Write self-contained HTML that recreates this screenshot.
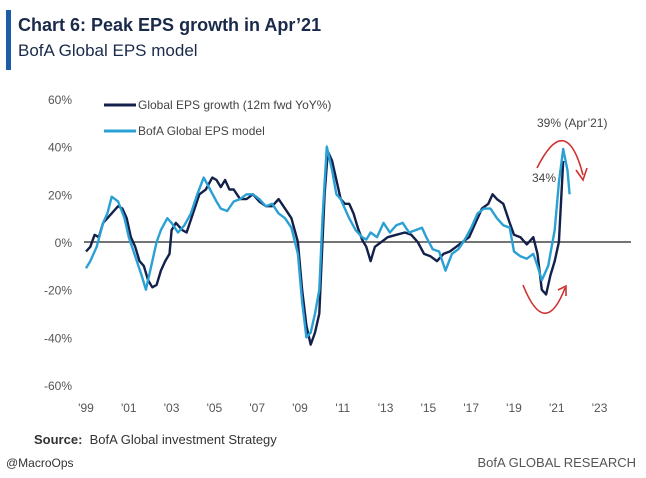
<!DOCTYPE html>
<html><head><meta charset="utf-8"><style>
body{margin:0;width:646px;height:478px;background:#fff;overflow:hidden;font-family:"Liberation Sans",sans-serif;position:relative}
.t{position:absolute;white-space:nowrap}
</style></head><body>
<div style="position:absolute;left:6px;top:10px;width:5px;height:60px;background:#1f5ca8"></div>
<div class="t" style="left:18px;top:15px;font-size:18px;font-weight:bold;color:#1a2a4a">Chart 6: Peak EPS growth in Apr’21</div>
<div class="t" style="left:18px;top:41px;font-size:17px;color:#1a2a4a">BofA Global EPS model</div>
<svg id="c" width="646" height="478" style="position:absolute;left:0;top:0" font-family="Liberation Sans, sans-serif"></svg>
<div class="t" style="left:34px;top:432px;font-size:13px;color:#333"><b>Source:</b>&nbsp; BofA Global investment Strategy</div>
<div class="t" style="left:6px;top:456px;font-size:12px;color:#333">@MacroOps</div>
<div class="t" style="right:10px;top:455px;font-size:13px;color:#555;letter-spacing:0px">BofA GLOBAL RESEARCH</div>
<script>
const yTicks=[60,40,20,0,-20,-40,-60];
const xTickYears=[1999,2001,2003,2005,2007,2009,2011,2013,2015,2017,2019,2021,2023];
const xTickLabels=["'99","'01","'03","'05","'07","'09","'11","'13","'15","'17","'19","'21","'23"];
const darkYears=[1999.0,1999.2,1999.4,1999.6,1999.8,2000.0,2000.3,2000.5,2000.7,2000.9,2001.1,2001.3,2001.5,2001.7,2001.9,2002.1,2002.3,2002.5,2002.7,2002.9,2003.0,2003.2,2003.5,2003.7,2004.0,2004.3,2004.6,2004.9,2005.1,2005.3,2005.5,2005.7,2005.9,2006.2,2006.5,2006.8,2007.1,2007.4,2007.7,2008.0,2008.3,2008.6,2008.9,2009.1,2009.3,2009.5,2009.7,2009.9,2010.0,2010.15,2010.3,2010.5,2010.7,2010.9,2011.1,2011.3,2011.5,2011.7,2011.9,2012.1,2012.3,2012.5,2012.8,2013.1,2013.5,2013.9,2014.2,2014.5,2014.8,2015.1,2015.4,2015.7,2016.0,2016.3,2016.6,2016.9,2017.2,2017.5,2017.8,2018.0,2018.2,2018.5,2018.8,2019.0,2019.3,2019.6,2019.9,2020.1,2020.3,2020.5,2020.7,2020.9,2021.1,2021.3];
const darkValues=[-4,-2,3,2,8,10,13,15,14,10,2,-2,-8,-10,-16,-19,-18,-12,-8,-5,5,8,5,4,12,20,22,27,26,23,26,22,22,18,18,20,17,15,15,18,14,10,0,-20,-35,-43,-38,-30,-10,20,38,34,26,18,16,16,12,6,1,-2,-8,-2,0,2,3,4,3,0,-5,-6,-8,-5,-4,-2,0,2,8,14,16,20,18,16,8,3,2,-1,2,-5,-20,-22,-14,-8,0,34];
const lightYears=[1999.0,1999.2,1999.5,1999.8,2000.0,2000.2,2000.5,2000.8,2001.0,2001.3,2001.6,2001.8,2002.0,2002.3,2002.5,2002.8,2003.0,2003.3,2003.6,2003.9,2004.2,2004.5,2004.8,2005.1,2005.3,2005.6,2005.9,2006.2,2006.5,2006.8,2007.1,2007.4,2007.7,2008.0,2008.3,2008.6,2008.9,2009.1,2009.3,2009.5,2009.7,2009.9,2010.05,2010.25,2010.5,2010.7,2010.9,2011.1,2011.3,2011.6,2011.9,2012.1,2012.3,2012.6,2012.9,2013.2,2013.5,2013.8,2014.1,2014.4,2014.7,2014.9,2015.2,2015.5,2015.8,2016.1,2016.4,2016.7,2017.0,2017.3,2017.6,2017.9,2018.2,2018.5,2018.8,2019.0,2019.3,2019.6,2019.9,2020.1,2020.3,2020.6,2020.9,2021.1,2021.3,2021.5,2021.6];
const lightValues=[-11,-8,-2,8,12,19,17,10,2,-6,-14,-20,-12,0,5,10,8,4,7,12,20,27,22,17,14,13,17,18,20,20,18,15,16,12,10,6,-5,-25,-40,-38,-30,-20,10,40,30,20,18,14,10,5,2,1,4,2,8,4,7,8,4,5,6,2,-3,-4,-12,-5,-3,1,6,12,14,14,10,7,6,-4,-6,-7,-5,-10,-16,-10,5,25,39,30,20];
const svg=document.getElementById('c');const NS='http://www.w3.org/2000/svg';
const X=y=>86+(y-1999)*21.4;const Y=v=>242-v*2.385;
function mk(t,a){const e=document.createElementNS(NS,t);for(const k in a)e.setAttribute(k,a[k]);svg.appendChild(e);return e;}
yTicks.forEach(v=>{const e=mk('text',{x:72,y:Y(v)+5,'text-anchor':'end','font-size':12,fill:'#555'});e.textContent=v+'%';

});
xTickYears.forEach((yr,i)=>{const e=mk('text',{x:X(yr),y:412,'text-anchor':'middle','font-size':12,fill:'#555'});e.textContent=xTickLabels[i];

});
const z=mk('line',{x1:84,x2:631,y1:Y(0),y2:Y(0),stroke:'#222','stroke-width':1.2});


function series(ys,vs,col,name){const d=ys.map((y,i)=>(i?'L':'M')+X(y).toFixed(1)+','+Y(vs[i]).toFixed(1)).join('');
const p=mk('path',{d:d,fill:'none',stroke:col,'stroke-width':2.4,'stroke-linejoin':'round'});

}
series(darkYears,darkValues,'#12204a','global-eps-growth-line');
series(lightYears,lightValues,'#2aa0d4','bofa-eps-model-line');
const l1=mk('line',{x1:104,x2:136,y1:105,y2:105,stroke:'#12204a','stroke-width':3});


const l2=mk('line',{x1:104,x2:136,y1:131,y2:131,stroke:'#2aa0d4','stroke-width':3});


const t1=mk('text',{x:138,y:109,'font-size':12,fill:'#444'});t1.textContent='Global EPS growth (12m fwd YoY%)';


const t2=mk('text',{x:138,y:135,'font-size':12,fill:'#444'});t2.textContent='BofA Global EPS model';


const a1=mk('text',{x:537,y:127,'font-size':12,fill:'#444'});a1.textContent='39% (Apr’21)';


const a2=mk('text',{x:532,y:182,'font-size':12,fill:'#444'});a2.textContent='34%';


const r1=mk('path',{d:'M537,168 Q566,110 583,175 M576,170 L583,180 L587,168',fill:'none',stroke:'#d03030','stroke-width':1.6});


const r2=mk('path',{d:'M523,285 Q545,340 565,288 M558,290 L566,286 L566,296',fill:'none',stroke:'#d03030','stroke-width':1.6});


</script>
</body></html>
